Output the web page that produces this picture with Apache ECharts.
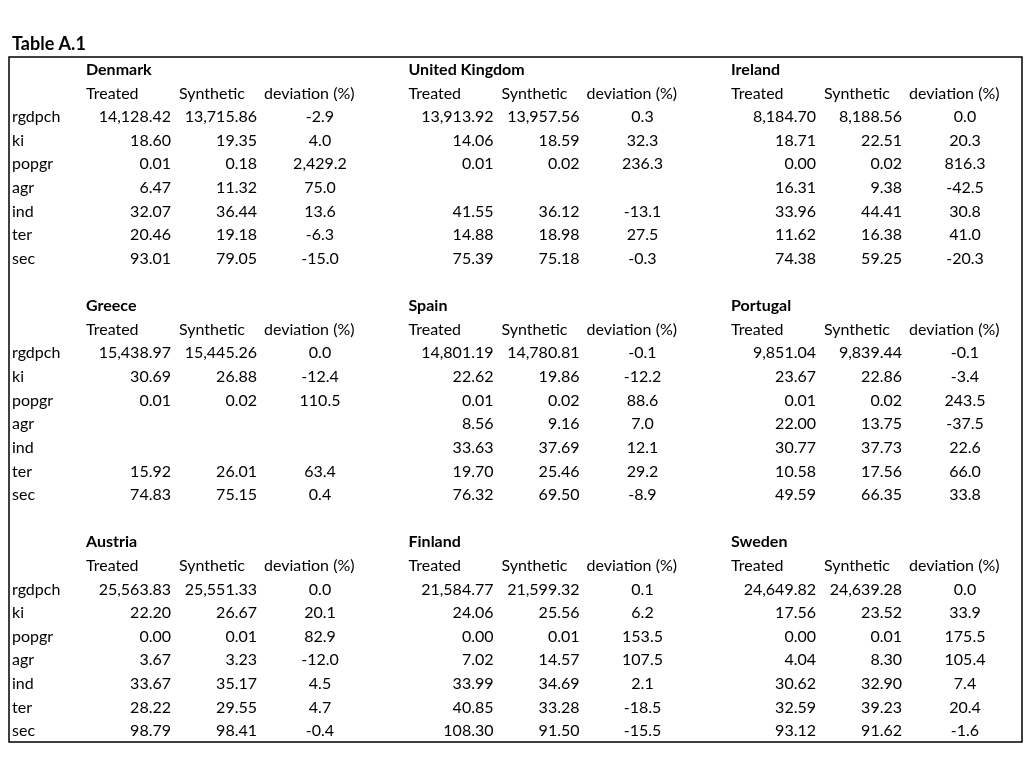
<!DOCTYPE html>
<html><head><meta charset="utf-8">
<script src="https://cdn.jsdelivr.net/npm/echarts@6/dist/echarts.min.js"></script>
<style>html,body{margin:0;padding:0;background:#fff}#c{width:1024px;height:768px}</style>
</head><body><div id="c"></div>
<script>
var variables = ['rgdpch','ki','popgr','agr','ind','ter','sec'];
var colHeads = ['Treated','Synthetic','deviation (%)'];
var countries = ['Denmark','United Kingdom','Ireland','Greece','Spain','Portugal','Austria','Finland','Sweden'];

var denmarkTreated = [14128.42, 18.60, 0.01, 6.47, 32.07, 20.46, 93.01];
var denmarkSynthetic = [13715.86, 19.35, 0.18, 11.32, 36.44, 19.18, 79.05];
var denmarkDeviation = [-2.9, 4.0, 2429.2, 75.0, 13.6, -6.3, -15.0];

var ukTreated = [13913.92, 14.06, 0.01, null, 41.55, 14.88, 75.39];
var ukSynthetic = [13957.56, 18.59, 0.02, null, 36.12, 18.98, 75.18];
var ukDeviation = [0.3, 32.3, 236.3, null, -13.1, 27.5, -0.3];

var irelandTreated = [8184.70, 18.71, 0.00, 16.31, 33.96, 11.62, 74.38];
var irelandSynthetic = [8188.56, 22.51, 0.02, 9.38, 44.41, 16.38, 59.25];
var irelandDeviation = [0.0, 20.3, 816.3, -42.5, 30.8, 41.0, -20.3];

var greeceTreated = [15438.97, 30.69, 0.01, null, null, 15.92, 74.83];
var greeceSynthetic = [15445.26, 26.88, 0.02, null, null, 26.01, 75.15];
var greeceDeviation = [0.0, -12.4, 110.5, null, null, 63.4, 0.4];

var spainTreated = [14801.19, 22.62, 0.01, 8.56, 33.63, 19.70, 76.32];
var spainSynthetic = [14780.81, 19.86, 0.02, 9.16, 37.69, 25.46, 69.50];
var spainDeviation = [-0.1, -12.2, 88.6, 7.0, 12.1, 29.2, -8.9];

var portugalTreated = [9851.04, 23.67, 0.01, 22.00, 30.77, 10.58, 49.59];
var portugalSynthetic = [9839.44, 22.86, 0.02, 13.75, 37.73, 17.56, 66.35];
var portugalDeviation = [-0.1, -3.4, 243.5, -37.5, 22.6, 66.0, 33.8];

var austriaTreated = [25563.83, 22.20, 0.00, 3.67, 33.67, 28.22, 98.79];
var austriaSynthetic = [25551.33, 26.67, 0.01, 3.23, 35.17, 29.55, 98.41];
var austriaDeviation = [0.0, 20.1, 82.9, -12.0, 4.5, 4.7, -0.4];

var finlandTreated = [21584.77, 24.06, 0.00, 7.02, 33.99, 40.85, 108.30];
var finlandSynthetic = [21599.32, 25.56, 0.01, 14.57, 34.69, 33.28, 91.50];
var finlandDeviation = [0.1, 6.2, 153.5, 107.5, 2.1, -18.5, -15.5];

var swedenTreated = [24649.82, 17.56, 0.00, 4.04, 30.62, 32.59, 93.12];
var swedenSynthetic = [24639.28, 23.52, 0.01, 8.30, 32.90, 39.23, 91.62];
var swedenDeviation = [0.0, 33.9, 175.5, 105.4, 7.4, 20.4, -1.6];

var treatedSets = [denmarkTreated, ukTreated, irelandTreated, greeceTreated, spainTreated, portugalTreated, austriaTreated, finlandTreated, swedenTreated];
var syntheticSets = [denmarkSynthetic, ukSynthetic, irelandSynthetic, greeceSynthetic, spainSynthetic, portugalSynthetic, austriaSynthetic, finlandSynthetic, swedenSynthetic];
var deviationSets = [denmarkDeviation, ukDeviation, irelandDeviation, greeceDeviation, spainDeviation, portugalDeviation, austriaDeviation, finlandDeviation, swedenDeviation];

function fmt(v, d) {
  if (v === null || v === undefined) return '';
  return v.toLocaleString('en-US', {minimumFractionDigits: d, maximumFractionDigits: d});
}

// layout
var FONT = 'Lato';
var FS = 16;
var blockOffset = 322.5;
var nRows = 29;
var rowKeys = [];
for (var r = 0; r < nRows; r++) rowKeys.push('r' + r);

var cells = []; // {x, row, text, align, bold}
for (var b = 0; b < 3; b++) {
  var base = b * 10;
  variables.forEach(function (v, i) {
    cells.push({x: 12, row: base + 2 + i, text: v, align: 'left'});
  });
  for (var k = 0; k < 3; k++) {
    var ci = b * 3 + k;
    var off = k * blockOffset;
    cells.push({x: 86 + off, row: base, text: countries[ci], align: 'left', bold: true});
    cells.push({x: 86 + off, row: base + 1, text: colHeads[0], align: 'left'});
    cells.push({x: 179 + off, row: base + 1, text: colHeads[1], align: 'left'});
    cells.push({x: 264 + off, row: base + 1, text: colHeads[2], align: 'left'});
    for (var i = 0; i < variables.length; i++) {
      cells.push({x: 171 + off, row: base + 2 + i, text: fmt(treatedSets[ci][i], 2), align: 'right'});
      cells.push({x: 257 + off, row: base + 2 + i, text: fmt(syntheticSets[ci][i], 2), align: 'right'});
      cells.push({x: 320 + off, row: base + 2 + i, text: fmt(deviationSets[ci][i], 1), align: 'center'});
    }
  }
}

var chart = echarts.init(document.getElementById('c'), null, {renderer: 'canvas'});
chart.setOption({
  animation: false,
  backgroundColor: '#fff',
  title: {
    text: 'Table A.1', left: 7, top: 30,
    textStyle: {fontFamily: FONT, fontSize: 18, fontWeight: 'bold', color: '#000'}
  },
  grid: {left: 9, right: 2, top: 57, bottom: 26, show: true, borderColor: '#000', borderWidth: 1.5, backgroundColor: 'transparent'},
  xAxis: {type: 'value', min: 9, max: 1022, show: false},
  yAxis: {type: 'category', data: rowKeys, inverse: true, show: false},
  series: [{
    type: 'custom',
    coordinateSystem: 'cartesian2d',
    data: cells.map(function (c) { return [c.x, c.row]; }),
    renderItem: function (params, api) {
      var c = cells[params.dataIndex];
      var p = api.coord([api.value(0), api.value(1)]);
      return {
        type: 'text', x: p[0], y: p[1] + 1,
        style: {
          text: c.text, fill: '#000',
          font: (c.bold ? 'bold ' : '') + FS + 'px ' + FONT,
          align: c.align, verticalAlign: 'middle'
        }
      };
    }
  }]
});
</script></body></html>
